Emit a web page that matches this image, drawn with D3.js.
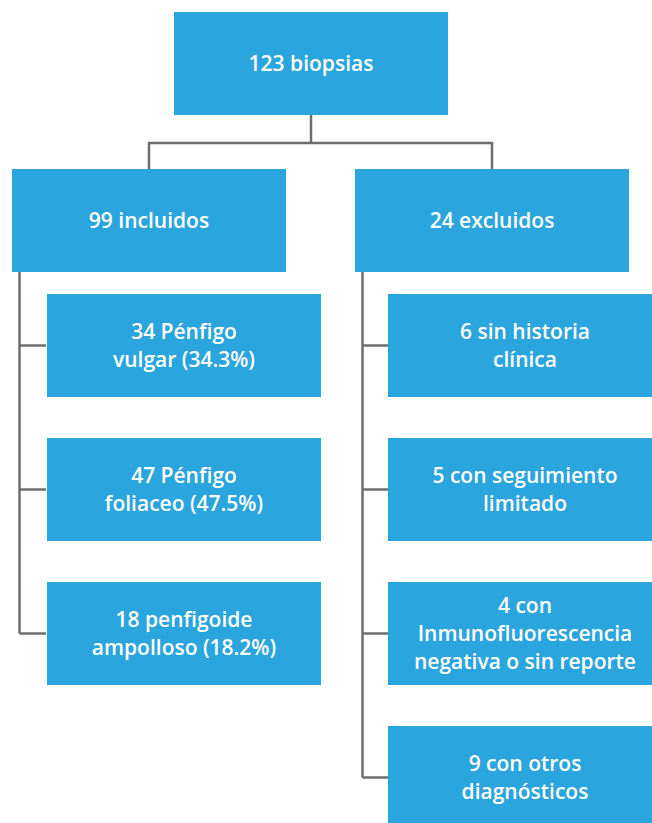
<!DOCTYPE html>
<html>
<head>
<meta charset="utf-8">
<script src="https://cdn.jsdelivr.net/npm/d3@7"></script>
<style>
  body { margin: 0; background: #fff; }
  svg { display: block; }
  .box text { font-family: "Open Sans", "Noto Sans", sans-serif; font-size: 21px; font-weight: 600; fill: #fff; }
</style>
</head>
<body>
<div id="chart"></div>
<script>
// flowchart content
var rootLabel = ["123 biopsias"];
var groupLabels = [["99 incluidos"], ["24 excluidos"]];
var includedLabels = [
  ["34 Pénfigo", "vulgar (34.3%)"],
  ["47 Pénfigo", "foliaceo (47.5%)"],
  ["18 penfigoide", "ampolloso (18.2%)"]
];
var excludedLabels = [
  ["6 sin historia", "clínica"],
  ["5 con seguimiento", "limitado"],
  ["4 con", "Inmunofluorescencia", "negativa o sin reporte"],
  ["9 con otros", "diagnósticos"]
];

var width = 652, height = 823;
var boxW = 274, boxH = 103;
var blue = "#2ba5de", lineColor = "#6d6e71";

var svg = d3.select("#chart").append("svg")
  .attr("width", width)
  .attr("height", height);

// column positions (left edge of boxes)
var colX = d3.scalePoint().domain([0, 1]).range([12, 355]);
// child rows
var rowY = d3.scaleLinear().domain([0, 3]).range([294, 726]);
var childIndent = 34;
var rootX = 174, rootY = 12, groupY = 169, barY = 143;

var links = svg.append("g")
  .attr("fill", "none")
  .attr("stroke", lineColor)
  .attr("stroke-width", 2.5);

// root -> two groups
var rootCx = rootX + boxW / 2;
links.append("path")
  .attr("d", "M" + rootCx + "," + (rootY + boxH) + "V" + barY);
links.append("path")
  .attr("d", "M" + (colX(0) + boxW / 2) + "," + groupY + "V" + barY +
             "H" + (colX(1) + boxW / 2) + "V" + groupY);

// group trunks -> children
[includedLabels, excludedLabels].forEach(function(list, g) {
  var trunkX = colX(g) + 7.5;
  var last = rowY(list.length - 1) + boxH / 2;
  links.append("path")
    .attr("d", "M" + trunkX + "," + (groupY + boxH) + "V" + last);
  links.selectAll(null)
    .data(list)
    .enter()
    .append("path")
      .attr("d", function(d, i) {
        var y = rowY(i) + boxH / 2;
        return "M" + trunkX + "," + y + "H" + (colX(g) + childIndent);
      });
});

function drawBox(x, y, lines) {
  var b = svg.append("g").attr("class", "box");
  b.append("rect")
    .attr("x", x).attr("y", y)
    .attr("width", boxW).attr("height", boxH)
    .attr("fill", blue);
  var lh = 28;
  var first = y + boxH / 2 - (lines.length - 1) * lh / 2 + 7;
  b.selectAll("text")
    .data(lines)
    .enter()
    .append("text")
      .attr("x", x + boxW / 2)
      .attr("y", function(d, i) { return first + i * lh; })
      .attr("text-anchor", "middle")
      .text(function(d) { return d; });
}

drawBox(rootX, rootY, rootLabel);
groupLabels.forEach(function(l, g) { drawBox(colX(g), groupY, l); });
includedLabels.forEach(function(l, i) { drawBox(colX(0) + childIndent + 1, rowY(i), l); });
excludedLabels.forEach(function(l, i) { drawBox(colX(1) + childIndent - 1, rowY(i), l); });
</script>
</body>
</html>
